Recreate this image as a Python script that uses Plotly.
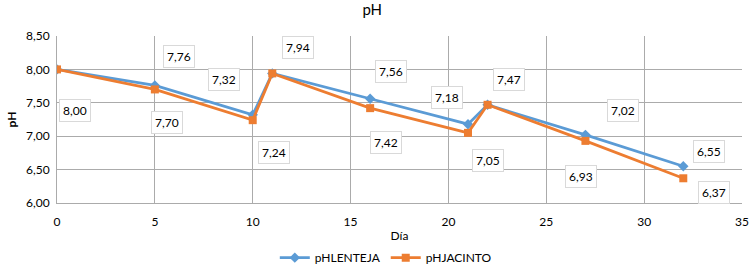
import plotly.graph_objects as go

dias = [0, 5, 10, 11, 16, 21, 22, 27, 32]
ph_lenteja = [8.00, 7.76, 7.32, 7.94, 7.56, 7.18, 7.47, 7.02, 6.55]
ph_jacinto = [8.00, 7.70, 7.24, 7.94, 7.42, 7.05, 7.47, 6.93, 6.37]

# label offsets (pixels) per point; None = no label
off_lenteja = [(18, -41), (24, 29), (-29, 35), (26, 26), (21, 27), (-21, 27), (21, 25), (38, 24), (26, 15)]
off_jacinto = [None, (12, -33), (21, -32), None, (16, -34), (20, -28), None, (-4, -36), (31, -14)]

FONT = "Lato"
GRID = "#ababab"
fig = go.Figure()
fig.add_trace(go.Scatter(x=dias, y=ph_lenteja, mode="lines+markers", name="pHLENTEJA",
                         line=dict(color="#5B9BD5", width=2.75),
                         marker=dict(symbol="diamond", size=8, color="#5B9BD5")))
fig.add_trace(go.Scatter(x=dias, y=ph_jacinto, mode="lines+markers", name="pHJACINTO",
                         line=dict(color="#ED7D31", width=2.75),
                         marker=dict(symbol="square", size=8, color="#ED7D31")))

anns = []
for xs, ys, offs in [(dias, ph_lenteja, off_lenteja), (dias, ph_jacinto, off_jacinto)]:
    for x, y, o in zip(xs, ys, offs):
        if o is None:
            continue
        anns.append(dict(x=x, y=y, xref="x", yref="y", text=f"{y:.2f}".replace(".", ","),
                         showarrow=False, xshift=o[0], yshift=o[1],
                         bgcolor="white", bordercolor="#d9d9d9", borderwidth=1, borderpad=3,
                         font=dict(family=FONT, size=12, color="#000")))
fig.update_layout(
    annotations=anns,
    width=752, height=267,
    margin=dict(l=57, r=10, t=36, b=64),
    paper_bgcolor="white", plot_bgcolor="white",
    separators=",.",
    title=dict(text="pH", x=0.495, xanchor="center", y=0.985, yanchor="top",
               font=dict(family=FONT, size=15, color="#000")),
    font=dict(family=FONT, size=12, color="#000"),
    showlegend=True,
    legend=dict(orientation="h", x=0.48, xanchor="center", yref="container", y=0.035, yanchor="middle",
                font=dict(family=FONT, size=12, color="#000")),
    xaxis=dict(range=[0, 35], dtick=5, tick0=0, showgrid=True, gridcolor=GRID, gridwidth=1,
               zeroline=False, showline=True, linecolor=GRID, mirror=False, automargin=False,
               ticks="", ticklabelstandoff=8,
               title=dict(text="Día", font=dict(family=FONT, size=12), standoff=9)),
    yaxis=dict(range=[6, 8.5], dtick=0.5, tick0=6, tickformat=".2f", showgrid=True,
               gridcolor=GRID, gridwidth=1, zeroline=False, showline=True, linecolor=GRID,
               ticks="", ticklabelstandoff=4, automargin=False,
               title=dict(text="<b>pH</b>", font=dict(family=FONT, size=12), standoff=6)),
)
fig.write_html("out.html", config={"displayModeBar": False},
               post_script="document.body.style.margin='0';")
